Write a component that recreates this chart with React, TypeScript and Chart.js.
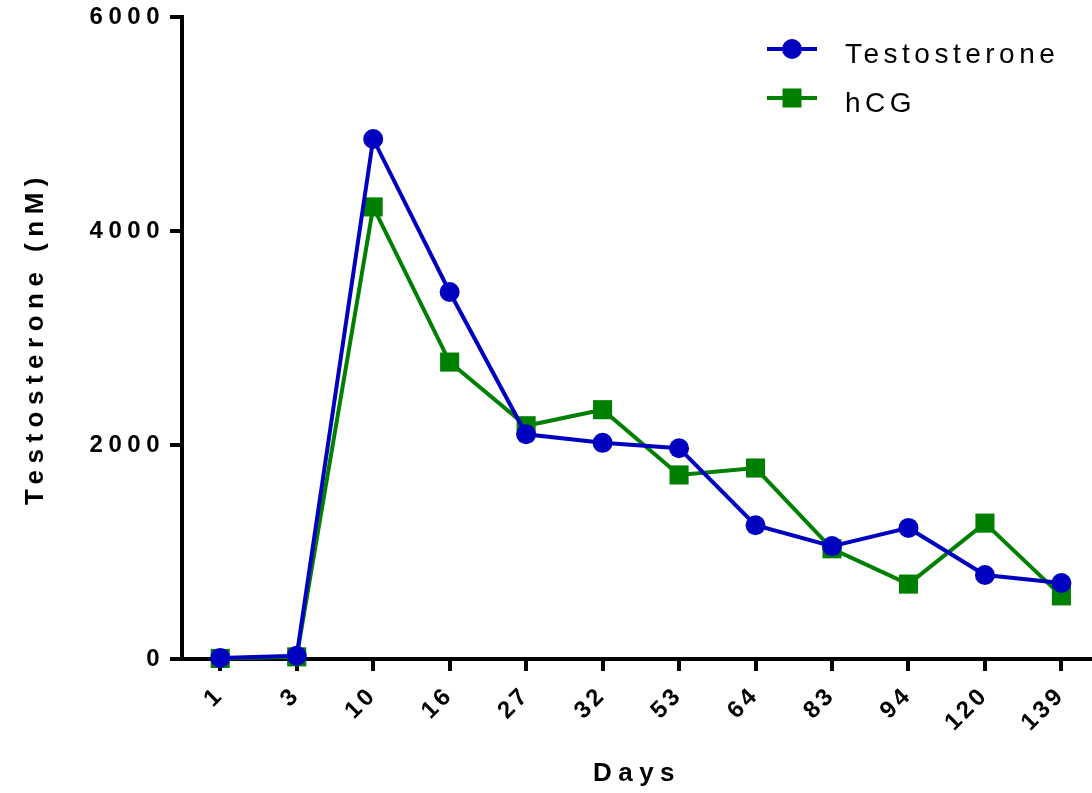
import React, { useEffect, useRef } from "react";
import { Chart, registerables } from "chart.js";
Chart.register(...registerables);

const days = ["1", "3", "10", "16", "27", "32", "53", "64", "83", "94", "120", "139"];
const testosterone = [10, 30, 4860, 3430, 2100, 2020, 1970, 1250, 1055, 1225, 785, 710];
const hcg = [5, 20, 4225, 2775, 2180, 2330, 1720, 1785, 1030, 700, 1270, 590];
const yTicks = [0, 2000, 4000, 6000];

const FONT = "'Liberation Sans', Arial, Helvetica, sans-serif";
const BLUE = "rgb(0,0,192)";
const GREEN = "rgb(0,128,0)";
const LABEL_SPACING: Record<string, string> = { x: "3.5px", y: "5.5px" };
const TITLE_SPACING = "6.5px";

function withSpacing(s: any, name: string, spacing: string) {
  const orig = s[name].bind(s);
  s[name] = (...args: any[]) => {
    const c = s.ctx;
    const prev = c.letterSpacing;
    c.letterSpacing = spacing;
    orig(...args);
    c.letterSpacing = prev;
  };
}

const spacingPlugin = {
  id: "spacing",
  afterUpdate(chart: any) {
    for (const s of Object.values(chart.scales) as any[]) {
      if (!s._spPatched) {
        withSpacing(s, "drawTitle", TITLE_SPACING);
        withSpacing(s, "drawLabels", LABEL_SPACING[s.id] || "0px");
        s._spPatched = true;
      }
    }
  },
};

const legendPlugin = {
  id: "lineLegend",
  afterDraw(chart: any) {
    const { ctx, chartArea } = chart;
    ctx.save();
    ctx.letterSpacing = "4.5px";
    chart.data.datasets.forEach((ds: any, i: number) => {
      const y = chartArea.top + 32 + i * 49;
      const x0 = chartArea.right - 325;
      const x1 = x0 + 50;
      const cx = (x0 + x1) / 2;
      ctx.strokeStyle = ds.borderColor;
      ctx.lineWidth = 4;
      ctx.beginPath();
      ctx.moveTo(x0, y);
      ctx.lineTo(x1, y);
      ctx.stroke();
      ctx.fillStyle = ds.backgroundColor;
      if (ds.pointStyle === "rect") {
        ctx.fillRect(cx - 9.5, y - 9.5, 19, 19);
      } else {
        ctx.beginPath();
        ctx.arc(cx, y, 10, 0, Math.PI * 2);
        ctx.fill();
      }
      ctx.fillStyle = "#000";
      ctx.font = `28px ${FONT}`;
      ctx.textAlign = "left";
      ctx.textBaseline = "alphabetic";
      ctx.fillText(ds.label, x1 + 28, y + 14);
    });
    ctx.restore();
  },
};

export default function App() {
  const ref = useRef<HTMLCanvasElement | null>(null);
  useEffect(() => {
    document.body.style.margin = "0";
    const canvas = ref.current!;
    const chart = new Chart(canvas, {
      type: "line",
      data: {
        datasets: [
          {
            label: "Testosterone",
            data: days.map((_, i) => ({ x: i, y: testosterone[i] })),
            borderColor: BLUE,
            backgroundColor: BLUE,
            pointBackgroundColor: BLUE,
            pointBorderWidth: 0,
            borderWidth: 4,
            pointStyle: "circle",
            pointRadius: 10,
            tension: 0,
            clip: 20,
          },
          {
            label: "hCG",
            data: days.map((_, i) => ({ x: i, y: hcg[i] })),
            borderColor: GREEN,
            backgroundColor: GREEN,
            pointBackgroundColor: GREEN,
            pointBorderWidth: 0,
            borderWidth: 4,
            pointStyle: "rect",
            pointRadius: 13.5,
            tension: 0,
            clip: 20,
          },
        ],
      },
      options: {
        animation: false,
        responsive: false,
        maintainAspectRatio: false,
        layout: { autoPadding: false, padding: { top: 17, left: 0, right: 0, bottom: 0 } },
        plugins: { legend: { display: false }, tooltip: { enabled: false } },
        scales: {
          x: {
            type: "linear",
            min: -0.5,
            max: 11.4,
            afterBuildTicks: (scale: any) => {
              scale.ticks = days.map((_, i) => ({ value: i }));
            },
            afterFit: (scale: any) => {
              scale.height = 134;
              scale.paddingRight = 0;
              scale.paddingLeft = 0;
            },
            grid: {
              drawOnChartArea: false,
              drawTicks: true,
              tickLength: 12,
              lineWidth: 4,
              color: "#000",
            },
            border: { display: true, width: 4, color: "#000" },
            ticks: {
              autoSkip: false,
              minRotation: 45,
              maxRotation: 45,
              padding: 10,
              color: "#000",
              font: { family: FONT, size: 24, weight: "bold" },
              callback: (v: any) => days[v] ?? "",
            },
            title: {
              display: true,
              text: "Days",
              color: "#000",
              font: { family: FONT, size: 26, weight: "bold" },
              padding: { top: 0, bottom: 4 },
            },
          },
          y: {
            type: "linear",
            min: 0,
            max: 6000,
            afterBuildTicks: (scale: any) => {
              scale.ticks = yTicks.map((v) => ({ value: v }));
            },
            afterFit: (scale: any) => {
              scale.width = 182;
              scale.paddingTop = 0;
              scale.paddingBottom = 0;
            },
            grid: {
              drawOnChartArea: false,
              drawTicks: true,
              tickLength: 12,
              lineWidth: 4,
              color: "#000",
            },
            border: { display: true, width: 4, color: "#000" },
            ticks: {
              padding: 5,
              color: "#000",
              font: { family: FONT, size: 24, weight: "bold" },
              callback: (v: any) => String(v),
            },
            title: {
              display: true,
              text: "Testosterone (nM)",
              color: "#000",
              font: { family: FONT, size: 26, weight: "bold" },
              padding: { top: 20, bottom: 0 },
            },
          },
        },
      },
      plugins: [spacingPlugin, legendPlugin],
    } as any);
    return () => chart.destroy();
  }, []);
  return (
    <canvas
      ref={ref}
      width={1092}
      height={793}
      style={{ display: "block", width: 1092, height: 793 }}
    />
  );
}
